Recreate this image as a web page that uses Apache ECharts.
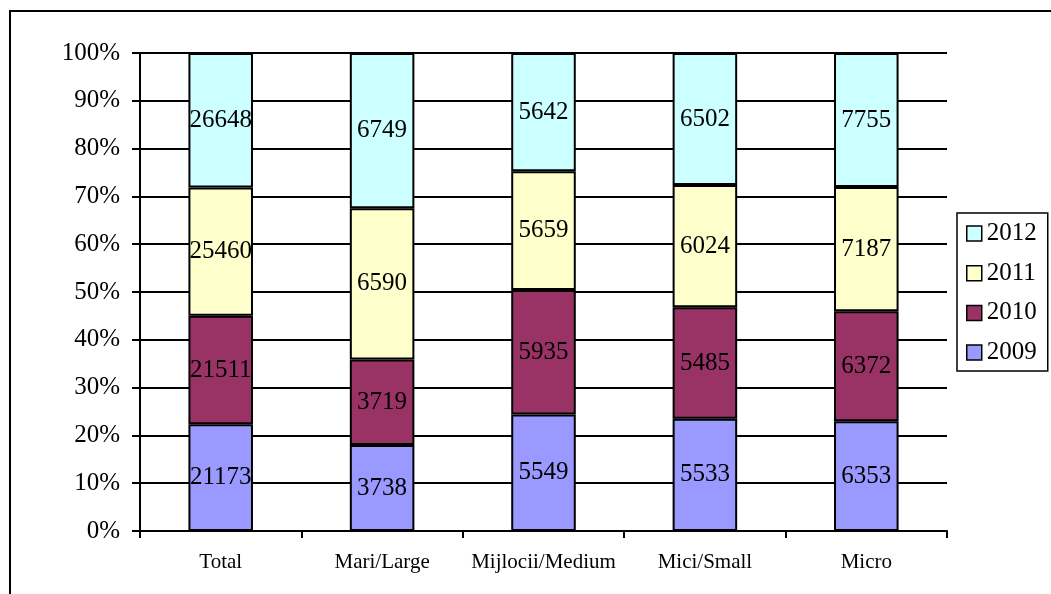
<!DOCTYPE html>
<html>
<head>
<meta charset="utf-8">
<script src="https://cdn.jsdelivr.net/npm/echarts@6/dist/echarts.min.js"></script>
<style>html,body{margin:0;padding:0;background:#fff}#c{width:1051px;height:594px}</style>
</head>
<body>
<div id="c"></div>
<script>
var categories = ['Total', 'Mari/Large', 'Mijlocii/Medium', 'Mici/Small', 'Micro'];
var years = ['2009', '2010', '2011', '2012'];
var v2009 = [21173, 3738, 5549, 5533, 6353];
var v2010 = [21511, 3719, 5935, 5485, 6372];
var v2011 = [25460, 6590, 5659, 6024, 7187];
var v2012 = [26648, 6749, 5642, 6502, 7755];
var yTicks = [0, 10, 20, 30, 40, 50, 60, 70, 80, 90, 100];
var colors = ['#9999FF', '#993366', '#FFFFCC', '#CCFFFF'];

var raw = [v2009, v2010, v2011, v2012];
var totals = categories.map(function (c, i) {
  return raw.reduce(function (s, arr) { return s + arr[i]; }, 0);
});
var font = 'Liberation Serif';
var series = years.map(function (y, k) {
  return {
    name: y,
    type: 'bar',
    stack: 'all',
    barWidth: '40%',
    data: raw[k].map(function (v, i) { return { value: v / totals[i] * 100, raw: v }; }),
    itemStyle: { color: colors[k], borderColor: '#000', borderWidth: 2 },
    label: {
      show: true, position: 'inside', color: '#000', fontFamily: font, fontSize: 25,
      formatter: function (p) { return String(p.data.raw); }
    }
  };
});

var chart = echarts.init(document.getElementById('c'));
chart.setOption({
  animation: false,
  backgroundColor: '#fff',
  graphic: [{
    type: 'rect', z: -1, silent: true,
    shape: { x: 10, y: 11, width: 1200, height: 800 },
    style: { fill: 'none', stroke: '#000', lineWidth: 2 }
  }],
  grid: { left: 140, right: 104, top: 53, bottom: 63, containLabel: false },
  legend: {
    data: ['2012', '2011', '2010', '2009'],
    orient: 'vertical',
    left: 957, top: 213,
    padding: [8, 11, 6, 9],
    borderColor: '#000', borderWidth: 1.5,
    backgroundColor: '#fff',
    itemWidth: 15, itemHeight: 15, itemGap: 14.7, itemTextGap: 6,
    icon: 'rect',
    itemStyle: { borderColor: '#000', borderWidth: 1.5 },
    textStyle: { fontFamily: font, fontSize: 25, color: '#000', lineHeight: 25 }
  },
  xAxis: {
    type: 'category',
    data: categories,
    axisLine: { lineStyle: { color: '#000', width: 2 } },
    axisTick: { show: true, length: 7, lineStyle: { color: '#000', width: 2 } },
    axisLabel: { color: '#000', fontFamily: font, fontSize: 21, margin: 21, interval: 0 }
  },
  yAxis: {
    type: 'value',
    min: 0, max: 100, interval: 10,
    axisLine: { show: true, lineStyle: { color: '#000', width: 2 } },
    axisTick: { show: true, length: 8, lineStyle: { color: '#000', width: 2 } },
    splitLine: { show: true, lineStyle: { color: '#000', width: 2 } },
    axisLabel: {
      color: '#000', fontFamily: font, fontSize: 25, margin: 20,
      formatter: function (v) { return yTicks.indexOf(v) >= 0 ? v + '%' : ''; }
    }
  },
  series: series
});
</script>
</body>
</html>
